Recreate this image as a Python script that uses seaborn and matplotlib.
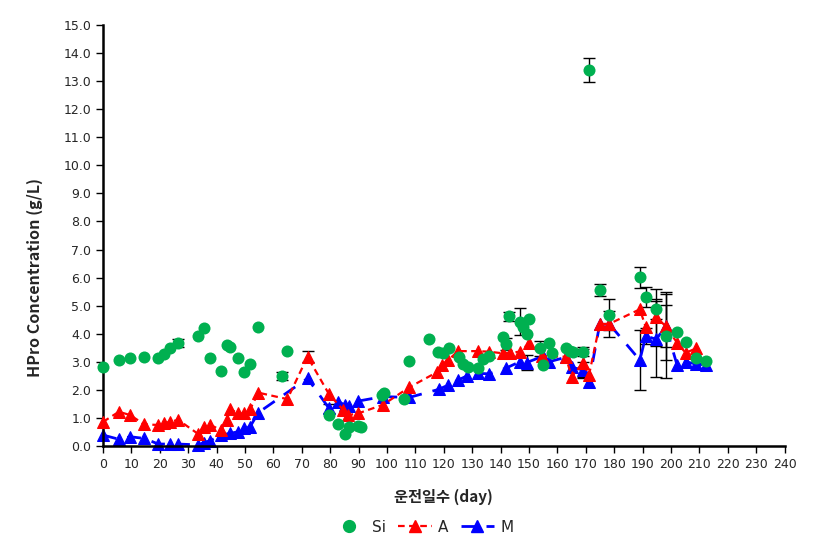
import numpy as np
import pandas as pd
import matplotlib
matplotlib.use("Agg")
import matplotlib.pyplot as plt
from matplotlib.lines import Line2D
import seaborn as sns

# Si (circles only)
si_day = [0, 5.6, 9.6, 14.5, 19.5, 21.6, 23.7, 26.5, 33.5, 35.5, 37.8, 41.5, 43.6, 44.8,
          47.6, 49.7, 51.8, 54.7, 62.9, 64.9, 79.6, 82.8, 85.2, 86.7, 89.8, 91.0, 98.1,
          98.9, 105.9, 107.8, 114.8, 118.1, 119.7, 121.9, 125.3, 126.6, 128.6, 132.0,
          133.8, 135.9, 140.9, 141.8, 143.0, 146.7, 147.9, 149.1, 150.0, 154.0, 154.9,
          157.0, 158.2, 162.9, 164.3, 165.3, 169.0, 171.0, 174.9, 178.2, 189.0, 191.1,
          194.8, 198.1, 202.1, 205.1, 208.9, 212.2]
si_val = [2.82, 3.06, 3.12, 3.18, 3.12, 3.28, 3.5, 3.66, 3.92, 4.19, 3.12, 2.66, 3.59, 3.52,
          3.12, 2.62, 2.92, 4.23, 2.49, 3.38, 1.1, 0.77, 0.42, 0.67, 0.71, 0.67, 1.82,
          1.88, 1.66, 3.03, 3.8, 3.36, 3.32, 3.48, 3.16, 2.92, 2.8, 2.77,
          3.1, 3.21, 3.89, 3.63, 4.63, 4.43, 4.25, 3.99, 4.51, 3.48, 2.89,
          3.68, 3.3, 3.48, 3.4, 3.36, 3.36, 13.4, 5.56, 4.67, 6.01, 5.3,
          4.87, 3.92, 4.05, 3.69, 3.15, 3.03]
si_err = {26.5: 0.15, 62.9: 0.15, 141.8: 0.2, 143.0: 0.16, 146.7: 0.47, 154.0: 0.27,
          169.0: 0.15, 171.0: 0.43, 174.9: 0.22, 178.2: 0.55, 189.0: 0.37, 191.1: 0.35,
          194.8: 0.36, 198.1: 1.5}

# A (red dashed)
a_day = [0, 5.6, 9.6, 14.5, 19.5, 21.6, 23.7, 26.5, 33.5, 35.5, 37.8, 41.5, 43.6, 44.8,
         47.6, 49.7, 51.8, 54.7, 64.9, 72.0, 79.6, 84.6, 86.3, 89.8, 98.6, 107.8, 117.6,
         119.2, 121.5, 125.0, 132.0, 135.9, 140.9, 143.2, 146.7, 150.0, 154.7, 162.9,
         165.0, 169.0, 171.1, 174.9, 178.2, 189.0, 191.1, 194.8, 198.1, 202.1, 205.1, 208.9]
a_val = [0.86, 1.22, 1.1, 0.77, 0.75, 0.81, 0.87, 0.93, 0.43, 0.69, 0.75, 0.57, 0.93, 1.31,
         1.16, 1.16, 1.31, 1.9, 1.67, 3.18, 1.84, 1.28, 1.1, 1.16, 1.47, 2.09, 2.63,
         2.89, 3.06, 3.38, 3.38, 3.36, 3.3, 3.32, 3.36, 3.66, 3.2, 3.18,
         2.47, 2.97, 2.53, 4.35, 4.35, 4.87, 4.23, 4.58, 4.27, 3.68, 3.32, 3.48]
a_err = {72.0: 0.2, 169.0: 0.5, 178.2: 0.45, 194.8: 1.0, 198.1: 0.75}

# M (blue dashed)
m_day = [0, 5.6, 9.6, 14.5, 19.5, 23.7, 26.5, 33.5, 35.5, 37.8, 41.5, 44.8, 47.6, 49.7,
         51.8, 54.7, 72.0, 79.6, 82.8, 85.2, 86.7, 89.8, 98.6, 107.8, 118.3, 121.5, 125.0,
         128.0, 132.0, 135.9, 141.8, 146.7, 149.1, 154.9, 157.0, 162.9, 165.0, 169.0,
         171.1, 174.9, 178.2, 189.0, 191.1, 194.8, 198.1, 202.1, 205.1, 208.9, 212.2]
m_val = [0.39, 0.24, 0.33, 0.27, 0.07, 0.07, 0.07, 0.04, 0.12, 0.19, 0.39, 0.45, 0.51, 0.63,
         0.69, 1.19, 2.41, 1.34, 1.58, 1.46, 1.42, 1.6, 1.76, 1.73, 2.02, 2.17, 2.35,
         2.49, 2.59, 2.57, 2.77, 3.0, 2.97, 3.2, 3.0, 3.16, 2.8, 2.71,
         2.29, 4.35, 4.35, 3.06, 3.92, 3.8, 4.27, 2.89, 3.0, 2.92, 2.89]
m_err = {79.6: 0.16, 149.1: 0.28, 169.0: 0.3, 189.0: 1.08, 191.1: 0.3, 194.8: 1.35, 198.1: 1.2}

green = "#00B050"
red = "#FF0000"
blue = "#0000FF"

sns.set_style("white")
plt.rcParams['font.family'] = ['DejaVu Sans']

fig = plt.figure(figsize=(8.26, 5.49), dpi=100)
ax = fig.add_axes([0.1247, 0.1876, 0.8253, 0.767])

# error bars first so markers sit on top
for day, val, err in [(si_day, si_val, si_err), (a_day, a_val, a_err), (m_day, m_val, m_err)]:
    d = [x for x in day if x in err]
    v = [val[day.index(x)] for x in d]
    e = [err[x] for x in d]
    ax.errorbar(d, v, yerr=e, fmt='none', ecolor='black', elinewidth=1, capsize=4, zorder=1)

df_a = pd.DataFrame({"day": a_day, "val": a_val})
df_m = pd.DataFrame({"day": m_day, "val": m_val})
df_si = pd.DataFrame({"day": si_day, "val": si_val})

sns.lineplot(data=df_m, x="day", y="val", ax=ax, color=blue, estimator=None,
             linestyle=(0, (5, 4)), linewidth=2, marker="^", markersize=8,
             markeredgecolor=blue, zorder=2, clip_on=False)
sns.lineplot(data=df_a, x="day", y="val", ax=ax, color=red, estimator=None,
             linestyle=(0, (3, 2)), linewidth=1.6, marker="^", markersize=8,
             markeredgecolor=red, zorder=3, clip_on=False)
sns.scatterplot(data=df_si, x="day", y="val", ax=ax, color=green, s=75,
                edgecolor=green, linewidth=0, zorder=4, clip_on=False)

ax.set_xlim(0, 240)
ax.set_ylim(0, 15)
ax.set_xticks(np.arange(0, 241, 10))
ax.set_yticks(np.arange(0, 15.1, 1))
ax.set_yticklabels([f"{v:.1f}" for v in np.arange(0, 15.1, 1)])
ax.tick_params(axis='both', direction='out', length=5, width=1, labelsize=9, color='black',
               bottom=True, left=True)
for s in ['top', 'right']:
    ax.spines[s].set_visible(False)
for s in ['left', 'bottom']:
    ax.spines[s].set_color('black')
    ax.spines[s].set_linewidth(1.8)

ax.set_xlabel("")
ax.set_ylabel("HPro Concentration (g/L)", fontsize=11.5, fontweight='bold',
              family=['Noto Sans CJK KR', 'DejaVu Sans'])
ax.yaxis.set_label_coords(-0.088, 0.40)
fig.text(0.537, 0.095, "운전일수 (day)", ha='center', va='center', fontsize=11,
         fontweight='bold', family=['Noto Sans CJK KR', 'DejaVu Sans'])

handles = [
    Line2D([], [], color=green, marker='o', linestyle='none', markersize=8.5),
    Line2D([], [], color=red, marker='^', linestyle=(0, (3, 2)), linewidth=1.6, markersize=8),
    Line2D([], [], color=blue, marker='^', linestyle=(0, (5, 4)), linewidth=2, markersize=8),
]
fig.legend(handles, ["Si", "A", "M"], loc='center', bbox_to_anchor=(0.512, 0.04), ncol=3,
           frameon=False, fontsize=11, handlelength=2.2, columnspacing=0.8, handletextpad=0.4)

fig.savefig("out.png", dpi=100)
